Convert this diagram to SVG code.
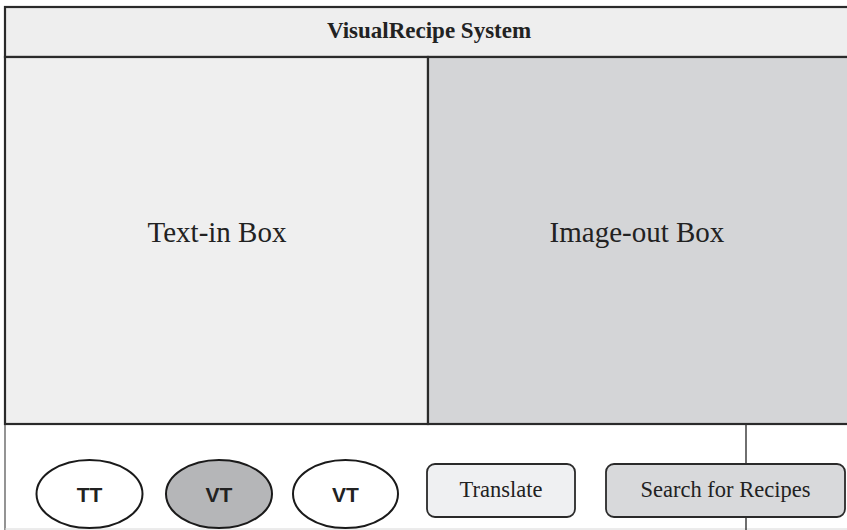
<svg xmlns="http://www.w3.org/2000/svg" width="847" height="530" viewBox="0 0 847 530">
  <style>
    .frame { stroke: #2a2a2a; stroke-width: 2.2; }
    .serif { font-family: "Liberation Serif", "Times New Roman", serif; fill: #222; }
    .sans { font-family: "Liberation Sans", Arial, sans-serif; font-weight: bold; fill: #222; }
    .oval { stroke: #1a1a1a; stroke-width: 2; }
    .btn { stroke: #2a2a2a; stroke-width: 1.8; }
    .link { stroke: #333; stroke-width: 1.4; fill: none; }
  </style>

  <rect x="0" y="0" width="847" height="530" fill="#ffffff"/>

  <!-- outer left border of the lower strip -->
  <line x1="5" y1="424" x2="5" y2="530" stroke="#666" stroke-width="1.4"/>
  <line x1="5" y1="529" x2="847" y2="529" stroke="#d8d8d8" stroke-width="1"/>

  <!-- title bar -->
  <g id="title">
    <rect class="frame" x="5" y="7" width="850" height="50" fill="#eeeeee"/>
    <text class="serif" x="429" y="38" font-size="23" font-weight="bold" text-anchor="middle">VisualRecipe System</text>
  </g>

  <!-- text input panel -->
  <g id="text-in">
    <rect class="frame" x="5" y="57" width="423" height="367" fill="#efefef"/>
    <text class="serif" x="217" y="242" font-size="29" text-anchor="middle">Text-in Box</text>
  </g>

  <!-- image output panel -->
  <g id="image-out">
    <rect class="frame" x="428" y="57" width="427" height="367" fill="#d4d5d7"/>
    <text class="serif" x="637" y="242" font-size="29" text-anchor="middle">Image-out Box</text>
  </g>

  <!-- connectors -->
  <g id="connectors">
    <line class="link" x1="746" y1="424" x2="746" y2="464"/>
    <line class="link" x1="746" y1="517" x2="746" y2="530"/>
  </g>

  <!-- mode selectors -->
  <g id="tt">
    <ellipse class="oval" cx="89.5" cy="494" rx="53" ry="34" fill="#ffffff"/>
    <text class="sans" x="89.5" y="502" font-size="21" text-anchor="middle">TT</text>
  </g>
  <g id="vt-active">
    <ellipse class="oval" cx="219" cy="494" rx="53" ry="34" fill="#b5b6b8"/>
    <text class="sans" x="219" y="502" font-size="21" text-anchor="middle">VT</text>
  </g>
  <g id="vt">
    <ellipse class="oval" cx="345.5" cy="494" rx="52.5" ry="34" fill="#ffffff"/>
    <text class="sans" x="345.5" y="502" font-size="21" text-anchor="middle">VT</text>
  </g>

  <!-- action buttons -->
  <g id="translate">
    <rect class="btn" x="427" y="464" width="148" height="53" rx="8" fill="#eff0f2"/>
    <text class="serif" x="501" y="497" font-size="22.5" text-anchor="middle">Translate</text>
  </g>
  <g id="search">
    <rect class="btn" x="606" y="464" width="239" height="53" rx="8" fill="#d8d9db"/>
    <text class="serif" x="725.5" y="497" font-size="22.5" text-anchor="middle">Search for Recipes</text>
  </g>
</svg>
